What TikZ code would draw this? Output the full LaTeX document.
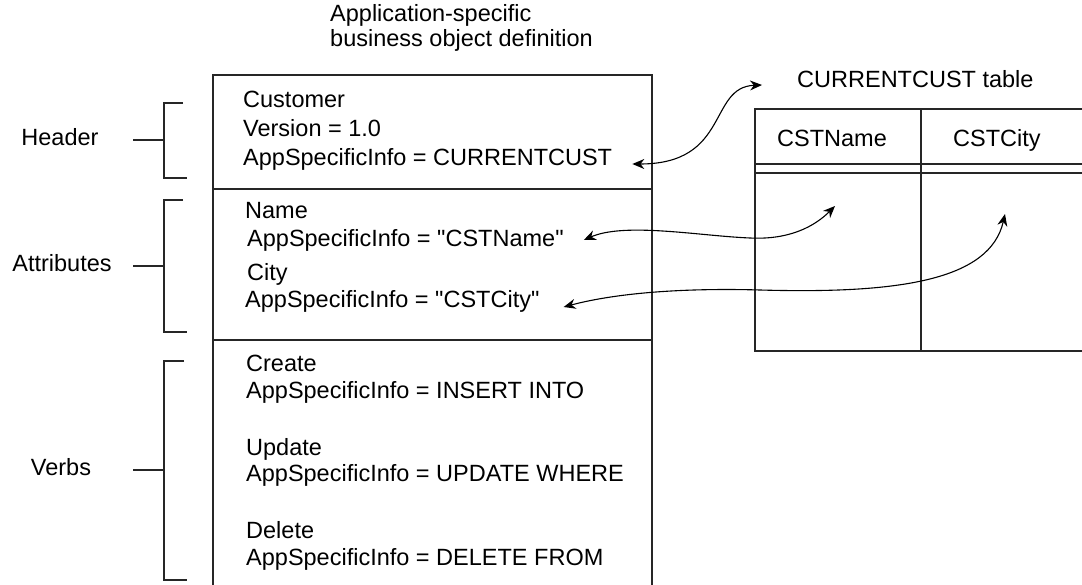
\documentclass[tikz,border=0pt]{standalone}
\usepackage{fontspec}
\setmainfont{Liberation Sans}
\usetikzlibrary{positioning,arrows.meta,calc}
\tikzset{
  txt/.style={anchor=base west, inner sep=0pt},
  lbl/.style={anchor=base, inner sep=0pt},
  frame/.style={line width=1.1pt, draw=black!85},
  link/.style={line width=1.1pt, {Stealth[length=12pt,width=10pt]}-{Stealth[length=12pt,width=10pt]}}
}

\begin{document}
\begin{tikzpicture}[x=1pt,y=-1pt,font=\fontsize{23.5}{28}\selectfont]
  \useasboundingbox (0,0) rectangle (1082,585);

  % business object definition
  \node[txt] (bo1) at (330,22) {Application-specific};
  \node[txt] (bo2) at (330,47) {business object definition};
  \draw[frame] (213,585) -- (213,75) -- (652,75) -- (652,585);
  \draw[frame] (213,189) -- (652,189);
  \draw[frame] (213,340) -- (652,340);

  \node[txt] (cust)     at (243,108) {Customer};
  \node[txt] (ver)      at (243,137) {Version = 1.0};
  \node[txt] (hinfo)    at (243,166) {AppSpecificInfo = CURRENTCUST};
  \node[txt] (attrname) at (245,219) {Name};
  \node[txt] (ninfo)    at (247,247) {AppSpecificInfo = \textquotedbl CSTName\textquotedbl};
  \node[txt] (attrcity) at (247,281) {City};
  \node[txt] (cinfo)    at (245,308) {AppSpecificInfo = \textquotedbl CSTCity\textquotedbl};
  \node[txt] (vcreate)  at (246,372) {Create};
  \node[txt] (crinfo)   at (246,398) {AppSpecificInfo = INSERT INTO};
  \node[txt] (vupdate)  at (246,455) {Update};
  \node[txt] (upinfo)   at (246,481) {AppSpecificInfo = UPDATE WHERE};
  \node[txt] (vdelete)  at (246,538) {Delete};
  \node[txt] (deinfo)   at (246,565) {AppSpecificInfo = DELETE FROM};

  % brackets
  \node[lbl] (hdr)   at (60,146) {Header};
  \node[lbl] (attr)  at (62,272) {Attributes};
  \node[lbl] (verbs) at (61,475) {Verbs};
  \draw[frame] (183,103) -- (164,103) -- (164,178) -- (187,178);
  \draw[frame] (133,140) -- (164,140);
  \draw[frame] (183,200) -- (164,200) -- (164,332) -- (187,332);
  \draw[frame] (133,266) -- (164,266);
  \draw[frame] (184,361) -- (164,361) -- (164,580) -- (187,580);
  \draw[frame] (133,470) -- (164,470);

  % table
  \node[txt] (ttl)     at (797,88)  {CURRENTCUST table};
  \node[txt] (colname) at (777,147) {CSTName};
  \node[txt] (colcity) at (953,147) {CSTCity};
  \draw[frame] (1082,109) -- (755,109) -- (755,351) -- (1082,351);
  \draw[frame] (921,109) -- (921,351);
  \draw[frame] (755,164) -- (1082,164);
  \draw[frame] (755,173) -- (1082,173);
  \coordinate (namecell) at (835,206);
  \coordinate (citycell) at (1005,214);

  % mappings
  \draw[link] ([xshift=20pt,yshift=2pt]hinfo.base east)
    .. controls +(98,0) and +(-54,2) .. ([xshift=-35pt,yshift=3pt]ttl.base west);
  \draw[link] ([xshift=20pt,yshift=7pt]ninfo.base east)
    .. controls (625,222) and (700,236) .. (750,238)
    .. controls (790,240) and (815,226) .. (namecell);
  \draw[link] ([xshift=24pt,yshift=1pt]cinfo.base east)
    .. controls (620,292) and (690,288) .. (760,290)
    .. controls (900,294) and (990,280) .. (citycell);
\end{tikzpicture}
\end{document}
